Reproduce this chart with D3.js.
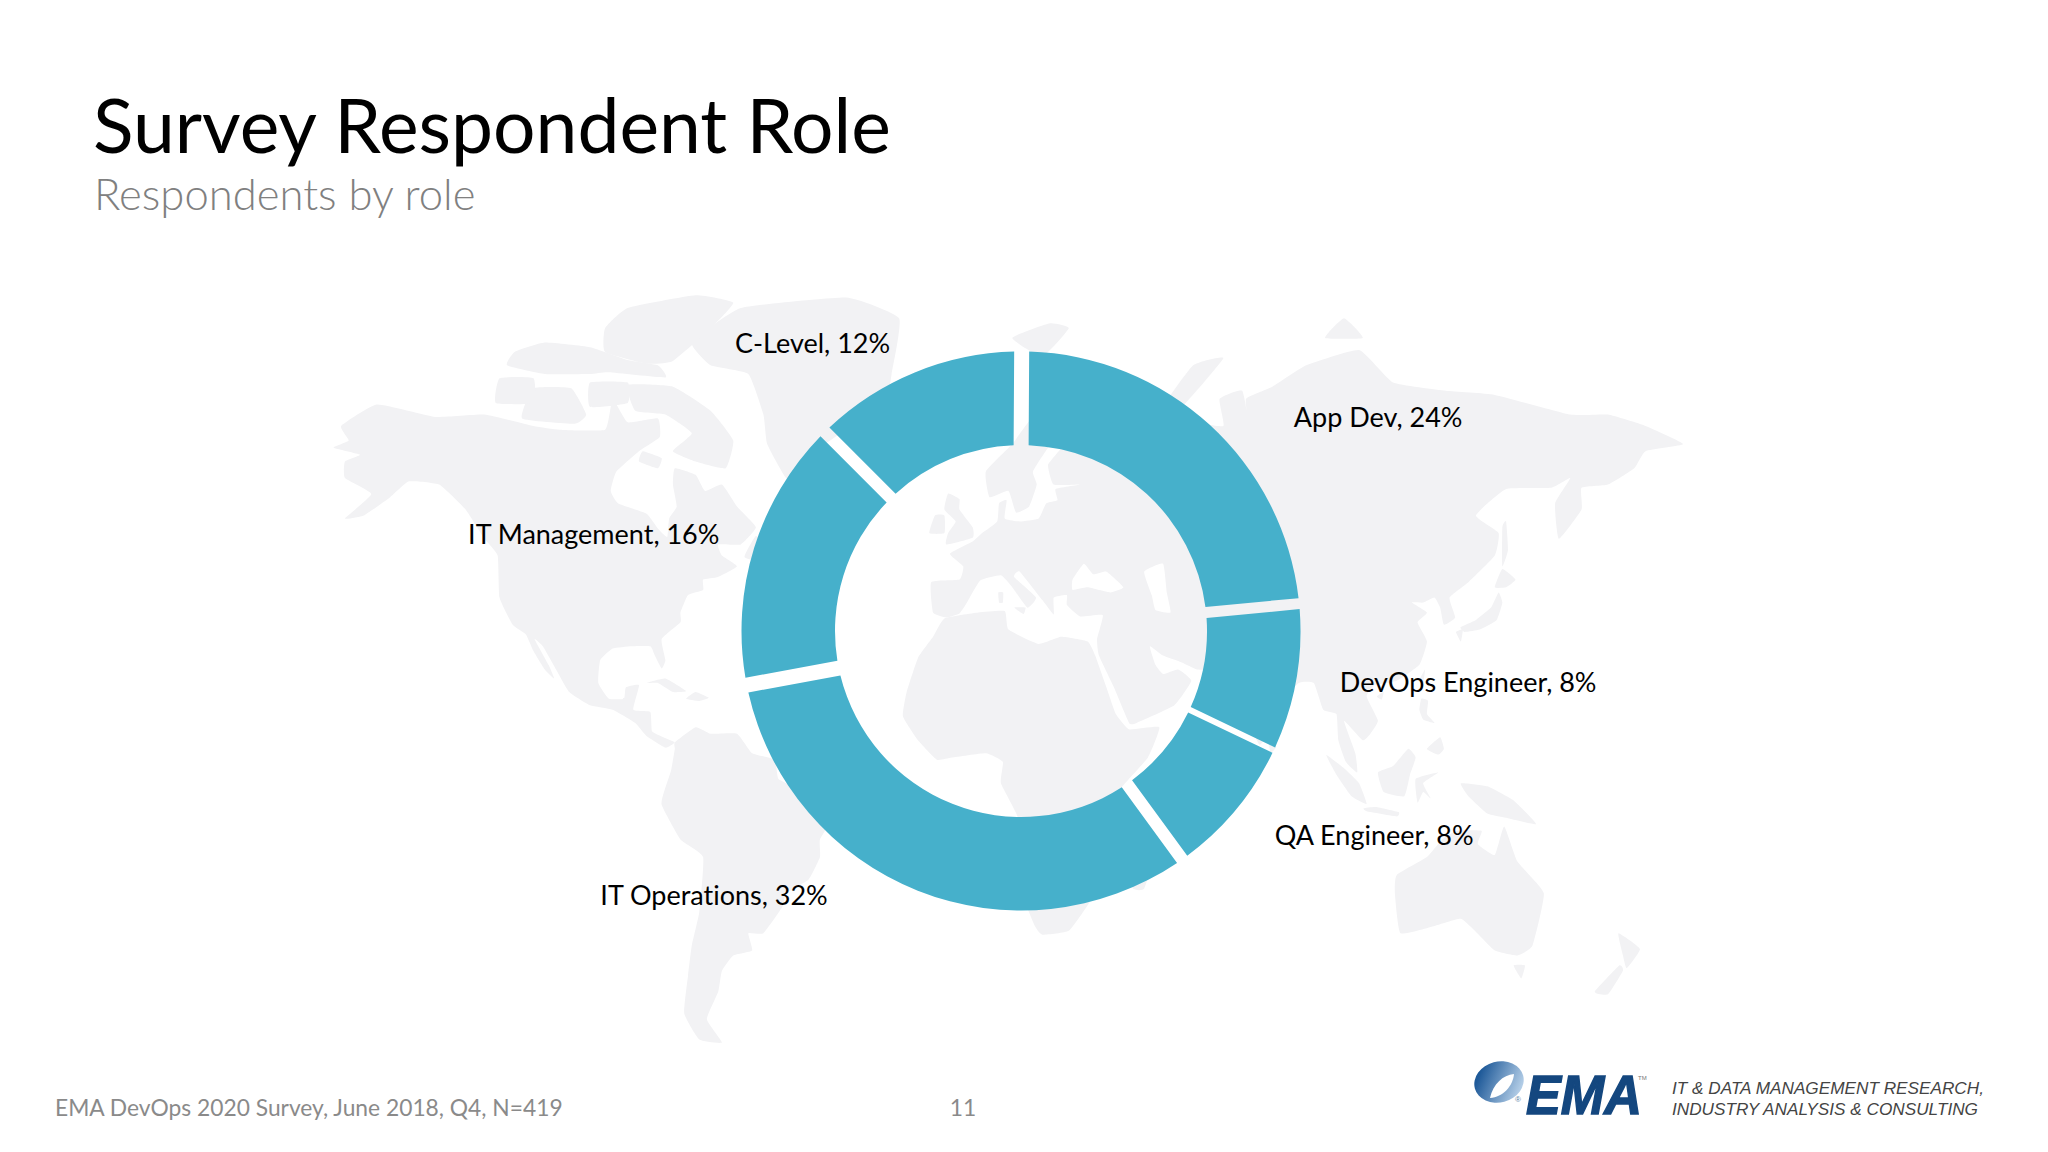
<!DOCTYPE html>
<html>
<head>
<meta charset="utf-8">
<title>Survey Respondent Role</title>
<script src="https://cdn.jsdelivr.net/npm/d3@7"></script>
<style>
  html, body { margin: 0; background: #fff; }
  svg { display: block; }
  text { font-family: Lato, "Noto Sans", sans-serif; font-variant-ligatures: none; }
</style>
</head>
<body>
<svg id="chart" width="2048" height="1152"></svg>
<script>
// printed percentages, and slice sizes as measured on the slide (they don't quite agree)
const roles = ['App Dev', 'DevOps Engineer', 'QA Engineer', 'IT Operations', 'IT Management', 'C-Level'];
const shares = [24, 8, 8, 32, 16, 12];
const sliceSizes = [23.4, 8.6, 7.85, 32.15, 15.4, 12.6];

// label nudges from each slice centroid, hand placed on the slide
const labelNudge = [[200, -32], [218, 20], [174, 65], [-221, 58], [-205, -18], [-120, -63]];
// gaps between slices are uneven in the original
const slicePad = [13, 9, 3, 22, 8, 17];

// background map outlines, [lon, lat]
const northAmerica = [[-168,65.5],[-164,66.5],[-166,68.5],[-156.5,71.3],[-141,69.7],[-128,70],[-115,68.5],[-108,68],[-96,68],[-94,72],[-90,69],[-82,69.5],[-81.5,67],[-87,65],[-93,62],[-94.5,59],[-92.5,57],[-85,55.3],[-82,52.8],[-79.5,51.3],[-79,54.5],[-77,56.5],[-78,60],[-77.5,62.5],[-72,61.5],[-69.5,59],[-65,60],[-61,56.5],[-56,53],[-60,50],[-66,50],[-65,48],[-61,46],[-66,44],[-70,43.5],[-70,41.5],[-74,40.5],[-76,37],[-76,35],[-81,31.5],[-80,27],[-81,25.2],[-82.8,28],[-84,30],[-89,30],[-94,29.5],[-97.3,27],[-97.8,22],[-95,18.5],[-91,18.5],[-90.5,21],[-87,21.5],[-88.5,16],[-84,15.5],[-83.5,11],[-79.5,9.3],[-77.5,8.5],[-80,7.3],[-85,10],[-88,13],[-94,16],[-100,17],[-105.5,20],[-109,25],[-112.5,30],[-114.7,31.5],[-111,26],[-109.5,23],[-112,25],[-115,29],[-117,32.5],[-120.5,34.5],[-124,40],[-124.5,48],[-128,51],[-133,56],[-140,60],[-148,60.5],[-153,58],[-160,55],[-165,54.5],[-158,58.5],[-165,61],[-165,63.5],[-161,64.5]];
const greenland = [[-73,78.5],[-60,82],[-32,83],[-18,81],[-20,75],[-22,70.5],[-32,68],[-40,65],[-43,60],[-48,61],[-53,66],[-54,70],[-58,75],[-68,76]];
const southAmerica = [[-77.5,8.5],[-72,12],[-68,10.5],[-61,10.5],[-57,6],[-51,4.5],[-50,0],[-44,-2.5],[-37,-4.8],[-35,-8],[-39,-14],[-39,-18],[-42,-23],[-48,-26],[-49,-29],[-54,-34.5],[-58,-34.5],[-57,-38],[-62,-39],[-65,-42],[-66,-46],[-69,-51],[-65,-55],[-71,-54.5],[-75,-50],[-74,-43],[-73,-37],[-71,-30],[-70,-18],[-76,-14],[-81,-6],[-80,-2],[-78.5,2],[-77.5,7]];
const africa = [[-6,35.8],[3,37],[10,37.3],[11,33.5],[19,30.5],[25,32],[32,31],[34,28],[37,21],[39.5,15],[43,11.5],[51,12],[48,5],[41,-2],[39,-7],[40.5,-15],[35,-20],[35,-24],[32.5,-28],[27,-34],[20,-34.8],[18,-33],[15,-27],[12,-17],[13.5,-9],[9,-1],[9.5,4],[5,6],[-4,5],[-8,4.5],[-13,9],[-17,14.5],[-16,20],[-13,27.5],[-9,32]];
const eurasia = [[-9,37],[-9.5,43],[-2,43.5],[-1,46],[-4.5,48.3],[1.5,50.5],[4,52],[8,54],[8.5,57],[10.5,57.5],[10,54.5],[14,54],[19,54.5],[21,57],[24,57.5],[23.5,59.3],[30,60],[23,60],[21.5,63],[25,65.5],[22,65.8],[17.5,62],[18.5,60],[16.5,56.5],[13,55.5],[11,59],[6,58],[5,62],[12,66],[18,70],[26,71],[33,69.5],[41,67],[38,64.5],[44,66],[44,68],[54,68.5],[60,69],[68,68.5],[67,72],[73,73],[75,68],[74,72],[81,73.5],[90,76],[104,77.7],[113,74],[127,73],[140,72.5],[160,70],[170,70],[180,68.5],[190,66],[180,65],[177,62.5],[170,60],[163,59.5],[163,56],[157,51],[156,57],[160,61],[155,59.5],[143,59.3],[135,55],[141,52],[140,48],[133,43],[128,40],[129.5,36],[126.5,34.5],[125.5,38],[124,40],[121,39],[118,39],[122,37],[119.5,35],[122,31],[120,26],[114,22.5],[108,21.5],[106,19],[109,13.5],[107,10.5],[105,9],[100,13.5],[103,6],[103.5,1.5],[100.5,4],[98.5,9],[98,15],[94.5,16],[92,22],[88,22],[80.5,15.5],[80,11],[77.5,8],[73,17],[72.5,21],[67,24.5],[61,25],[57,26.5],[52,28],[48.5,30],[50,26],[52,24],[56,25],[59.5,22.5],[55,17],[45,13],[43,13],[39,21],[35,28],[34.5,31.5],[36,36.5],[30,36.2],[26.5,38.5],[26.5,40.5],[23,40],[23,36.6],[20,39.5],[14,45],[12.5,44],[18.3,40],[16,38],[12,42],[9,44.3],[3.5,43.3],[0,39],[-2,36.8],[-5.5,36]];
const australia = [[114,-22],[122,-18],[126,-14],[130,-12],[136.5,-12],[135.5,-15],[140,-17.5],[142.5,-11],[146,-19],[153,-26],[150,-37],[146,-39],[140,-38],[136,-35],[131,-31.5],[124,-33],[115,-34.5],[113.5,-26]];
const islands = [
  [[-90,73.7],[-78,73.5],[-68,70.5],[-62,66.5],[-64,62.5],[-72,63.5],[-78,65],[-73,67.5],[-80,70],[-88,70.5]],
  [[-118,69.5],[-104,68.8],[-101,70],[-105,73.3],[-115,73.3]],
  [[-96,77.5],[-85,76.2],[-78,76.5],[-68,80],[-62,82.5],[-72,83.2],[-90,82],[-96,80]],
  [[-125,71.5],[-115,71.5],[-115,74.5],[-124,74.5]],
  [[-122,76],[-112,75],[-100,75],[-95,75.2],[-80,74.6],[-82,76],[-90,76.6],[-100,78],[-112,78.5],[-120,77.5]],
  [[-100,71],[-90,71.5],[-90,74],[-100,74]],
  [[-86,65],[-81,64],[-82,62.5],[-87,63.5]],
  [[-59,47.7],[-53,46.8],[-53,49.5],[-56,51.5]],
  [[-24,65.5],[-18,66.3],[-14,65],[-18,63.5],[-22,64]],
  [[-85,22],[-80,23],[-74.5,20.2],[-78,20],[-82,22]],
  [[-74.5,18.5],[-72,20],[-68.5,18.7],[-71,18]],
  [[49.5,-12],[50.3,-16],[47,-25],[44,-25],[43.5,-20],[45,-16]],
  [[-5.5,50],[1.5,51.2],[1.5,53],[-2,56],[-2,57.7],[-5,58.6],[-6,56],[-3,54],[-5,52]],
  [[-10,52],[-6,52],[-6,55],[-8.5,55]],
  [[12,79],[22,80.5],[27,80],[20,77]],
  [[52,71],[57,71],[68,76.8],[60,76]],
  [[95,79],[105,79],[100,81]],
  [[12.5,38],[15.5,38],[15,36.7]],
  [[8.3,41],[9.6,41],[9.5,39],[8.5,39]],
  [[130.9,34],[135,35.5],[139,38],[141,41],[142,39],[140.5,35.5],[136,33.5],[132,33]],
  [[140,42],[142,45.5],[145.5,43.5],[143,42]],
  [[129.7,33],[131.5,33.5],[131,31]],
  [[142,46],[143.5,49],[143,54],[142,53]],
  [[120.2,23],[121.5,25],[121,22]],
  [[108.7,19],[110.5,20],[110,18.3]],
  [[120,16],[120.5,18.5],[122.3,18],[122,15],[124,13],[121,13.8]],
  [[122,7],[125.5,9.7],[126.5,7],[125,5.7]],
  [[80,9.5],[82,7.5],[80.5,6]],
  [[95.3,5.6],[100,2.5],[104,-1],[106,-5.8],[102,-4],[98,1]],
  [[105.2,-6.8],[108.5,-6.5],[114.5,-7.7],[114,-8.7],[106,-7.5]],
  [[109,1.5],[113,3],[117,7],[119,5],[117.5,1],[116,-4],[110.5,-3]],
  [[119.5,-5.5],[119,0],[125,1.5],[121,-1],[123,-4.5],[121,-3]],
  [[131,-1],[138,-1.7],[145,-5],[151,-10.5],[143,-9],[138,-8],[133,-4]],
  [[145,-41],[148,-41],[147,-43.5]],
  [[172.8,-34.5],[178.5,-37.7],[175,-41.5],[174,-39]],
  [[173,-41],[174,-42],[170,-46.5],[166.5,-46]]
];
const seas = [
  [[28,41.5],[32,42],[38,41],[41.5,42],[37,45],[33.5,44.5],[31,46.5],[28,43.5]],
  [[47,45],[52,46.5],[53,41],[54,37],[50,37.5],[49,40.5]]
];

const svg = d3.select('#chart');

// map: miller latitudes, stretched a bit to sit like the slide's map
const miller = lat => 1.25 * Math.log(Math.tan(Math.PI / 4 + 0.4 * lat * Math.PI / 180));
const lon = d3.scaleLinear().domain([-180, 180]).range([967 - 180 * 3.77, 967 + 180 * 3.77]);
const lat = d3.scaleLinear().domain([0, 1]).range([779, 779 - 246]);
const outline = d3.line()
  .x(d => lon(d[0]))
  .y(d => lat(miller(d[1])))
  .curve(d3.curveCardinalClosed.tension(0.6));

svg.append('g')
  .attr('fill', '#f2f2f4')
  .selectAll('path')
  .data([northAmerica, greenland, southAmerica, africa, eurasia, australia, ...islands])
  .join('path')
  .attr('d', outline);

svg.append('g')
  .attr('fill', '#fff')
  .selectAll('path')
  .data(seas)
  .join('path')
  .attr('d', outline);

// donut
const cx = 1021;
const cy = 631;
const outer = 279.5;
const inner = 186;
const a0 = 0.006;

const pie = d3.pie().sort(null).value(d => d).startAngle(a0).endAngle(a0 + 2 * Math.PI);
const arc = d3.arc()
  .innerRadius(inner)
  .outerRadius(outer)
  .padRadius(outer)
  .padAngle(d => slicePad[d.index] / outer);

const slices = pie(sliceSizes);
const donut = svg.append('g').attr('transform', `translate(${cx},${cy})`);

donut.selectAll('path')
  .data(slices)
  .join('path')
  .attr('fill', '#46b0cb')
  .attr('d', arc);

const mid = d3.arc().innerRadius((inner + outer) / 2).outerRadius((inner + outer) / 2);
donut.selectAll('text')
  .data(slices)
  .join('text')
  .attr('x', d => mid.centroid(d)[0] + labelNudge[d.index][0])
  .attr('y', d => mid.centroid(d)[1] + labelNudge[d.index][1])
  .attr('text-anchor', 'middle')
  .attr('font-size', 27)
  .attr('fill', '#000')
  .text(d => `${roles[d.index]}, ${shares[d.index]}%`);

// headings and footer
svg.append('text').attr('x', 93).attr('y', 153).attr('font-size', 75).attr('fill', '#000')
  .text('Survey Respondent Role');
svg.append('text').attr('x', 94).attr('y', 210).attr('font-size', 43.6).attr('fill', '#808080')
  .attr('font-weight', 300)
  .text('Respondents by role');
svg.append('text').attr('x', 55).attr('y', 1116).attr('font-size', 22.8).attr('fill', '#8a8a8a')
  .text('EMA DevOps 2020 Survey, June 2018, Q4, N=419');
svg.append('text').attr('x', 963).attr('y', 1116).attr('font-size', 22.8).attr('fill', '#8a8a8a')
  .attr('text-anchor', 'middle')
  .text('11');

// logo
const defs = svg.append('defs');
const grad = defs.append('linearGradient').attr('id', 'swoosh')
  .attr('x1', 0.1).attr('y1', 0.3).attr('x2', 0.9).attr('y2', 0.8);
grad.append('stop').attr('offset', 0).attr('stop-color', '#1f5a99');
grad.append('stop').attr('offset', 1).attr('stop-color', '#b5cfe8');

const logo = svg.append('g');
logo.append('ellipse')
  .attr('cx', 1499).attr('cy', 1082).attr('rx', 25).attr('ry', 20.5)
  .attr('transform', 'rotate(-15 1499 1082)')
  .attr('fill', 'url(#swoosh)');
logo.append('path')
  .attr('d', 'M1490,1098 C1493,1084 1503,1075 1514,1074 C1513,1086 1503,1097 1490,1098 Z')
  .attr('fill', '#fff');
logo.append('text').attr('x', 1526).attr('y', 1114)
  .attr('font-size', 55).attr('font-weight', 700).attr('font-style', 'italic')
  .attr('fill', '#14477f').attr('stroke', '#14477f').attr('stroke-width', 1.5)
  .attr('textLength', 116).attr('lengthAdjust', 'spacingAndGlyphs')
  .style('font-family', '"Liberation Sans", Arial, sans-serif')
  .text('EMA');
logo.append('text').attr('x', 1515).attr('y', 1102).attr('font-size', 8).attr('fill', '#5a7fa8')
  .style('font-family', '"Liberation Sans", Arial, sans-serif')
  .text('®');
logo.append('text').attr('x', 1638).attr('y', 1080).attr('font-size', 6).attr('fill', '#777')
  .style('font-family', '"Liberation Sans", Arial, sans-serif')
  .text('TM');

const tagline = ['IT & DATA MANAGEMENT RESEARCH,', 'INDUSTRY ANALYSIS & CONSULTING'];
logo.selectAll('text.tag')
  .data(tagline)
  .join('text')
  .attr('class', 'tag')
  .attr('x', 1672)
  .attr('y', (d, i) => 1094 + i * 21)
  .attr('font-size', 17.2)
  .attr('font-style', 'italic')
  .attr('fill', '#444')
  .style('font-family', '"Liberation Sans", Arial, sans-serif')
  .text(d => d);
</script>
</body>
</html>
